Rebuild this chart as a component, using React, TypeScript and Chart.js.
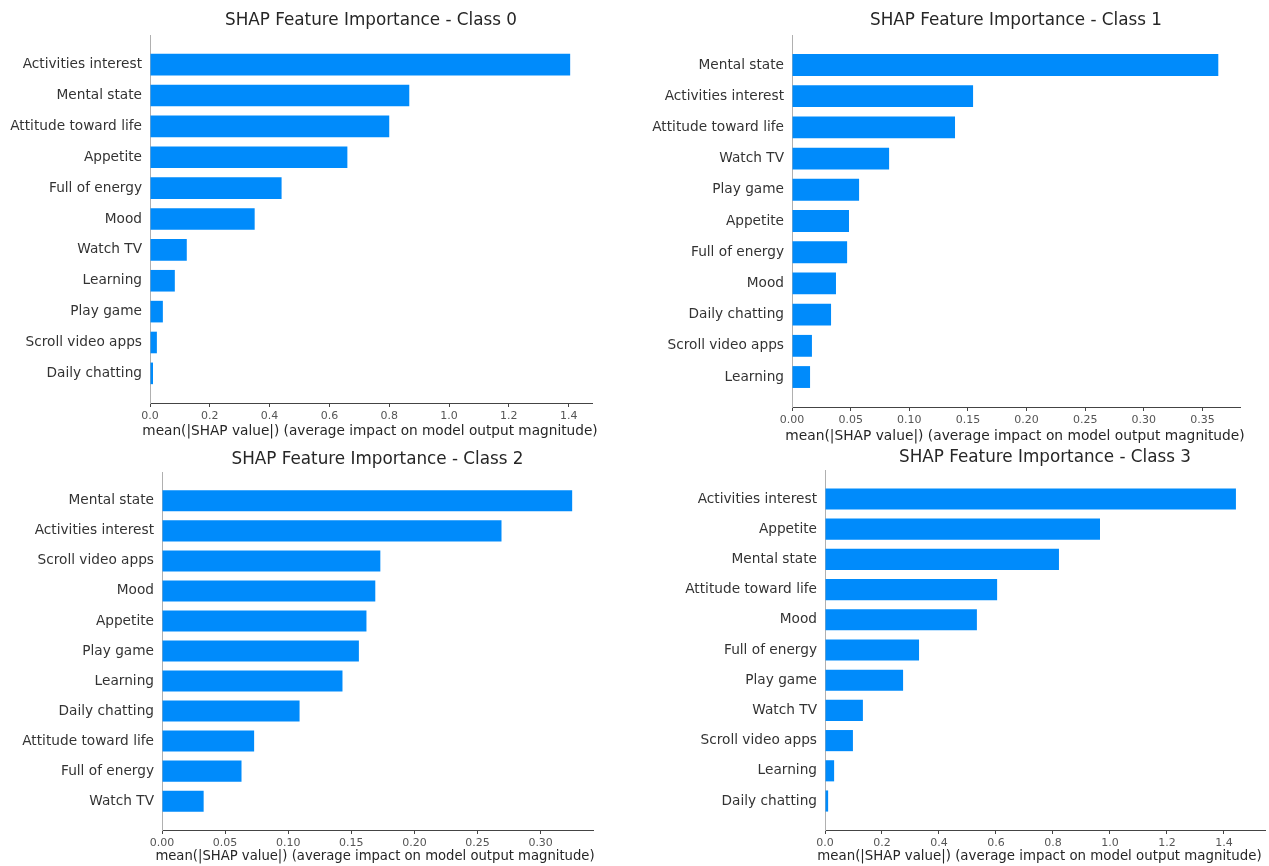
import React, { useEffect, useRef } from "react";
import { Chart, registerables } from "chart.js";

Chart.register(...registerables);

const FONT = "'DejaVu Sans', 'Liberation Sans', sans-serif";
const BAR_COLOR = "#008bfb";
const X_TITLE = "mean(|SHAP value|) (average impact on model output magnitude)";

// Class 0
const class0Features = [
  "Activities interest", "Mental state", "Attitude toward life", "Appetite",
  "Full of energy", "Mood", "Watch TV", "Learning", "Play game",
  "Scroll video apps", "Daily chatting",
];
const class0Values = [1.405, 0.867, 0.8, 0.66, 0.44, 0.35, 0.123, 0.083, 0.043, 0.023, 0.01];
const class0Ticks = [0, 0.2, 0.4, 0.6, 0.8, 1.0, 1.2, 1.4];

// Class 1
const class1Features = [
  "Mental state", "Activities interest", "Attitude toward life", "Watch TV",
  "Play game", "Appetite", "Full of energy", "Mood", "Daily chatting",
  "Scroll video apps", "Learning",
];
const class1Values = [0.3635, 0.1544, 0.139, 0.0828, 0.0572, 0.0486, 0.047, 0.0375, 0.0333, 0.017, 0.0154];
const class1Ticks = [0, 0.05, 0.1, 0.15, 0.2, 0.25, 0.3, 0.35];

// Class 2
const class2Features = [
  "Mental state", "Activities interest", "Scroll video apps", "Mood",
  "Appetite", "Play game", "Learning", "Daily chatting",
  "Attitude toward life", "Full of energy", "Watch TV",
];
const class2Values = [0.325, 0.269, 0.173, 0.169, 0.162, 0.156, 0.143, 0.109, 0.073, 0.063, 0.033];
const class2Ticks = [0, 0.05, 0.1, 0.15, 0.2, 0.25, 0.3];

// Class 3
const class3Features = [
  "Activities interest", "Appetite", "Mental state", "Attitude toward life",
  "Mood", "Full of energy", "Play game", "Watch TV", "Scroll video apps",
  "Learning", "Daily chatting",
];
const class3Values = [1.442, 0.965, 0.821, 0.604, 0.533, 0.33, 0.274, 0.133, 0.098, 0.032, 0.011];
const class3Ticks = [0, 0.2, 0.4, 0.6, 0.8, 1.0, 1.2, 1.4];

const panelTitles = [
  "SHAP Feature Importance - Class 0",
  "SHAP Feature Importance - Class 1",
  "SHAP Feature Importance - Class 2",
  "SHAP Feature Importance - Class 3",
];

type PanelSpec = {
  title: string;
  features: string[];
  values: number[];
  ticks: number[];
  decimals: number;
  xMax: number;
  // canvas box on the page
  cx: number; cy: number; cw: number; ch: number;
  // axes box on the page
  left: number; right: number; top: number; bottom: number;
  titleY: number;
  xTitleX: number;
  xTitleY: number;
  xTitleSize: number;
};

const panels: PanelSpec[] = [
  {
    title: panelTitles[0], features: class0Features, values: class0Values, ticks: class0Ticks,
    decimals: 1, xMax: 1.478,
    cx: 0, cy: 0, cw: 640, ch: 445,
    left: 150, right: 592, top: 35, bottom: 403, titleY: 21,
    xTitleX: 370, xTitleY: 431, xTitleSize: 13.68,
  },
  {
    title: panelTitles[1], features: class1Features, values: class1Values, ticks: class1Ticks,
    decimals: 2, xMax: 0.382,
    cx: 640, cy: 0, cw: 629, ch: 448,
    left: 792, right: 1240, top: 35, bottom: 407, titleY: 21,
    xTitleX: 1015, xTitleY: 436, xTitleSize: 13.8,
  },
  {
    title: panelTitles[2], features: class2Features, values: class2Values, ticks: class2Ticks,
    decimals: 2, xMax: 0.3415,
    cx: 0, cy: 445, cw: 640, ch: 421,
    left: 162, right: 593, top: 472, bottom: 830, titleY: 460,
    xTitleX: 375, xTitleY: 857, xTitleSize: 13.2,
  },
  {
    title: panelTitles[3], features: class3Features, values: class3Values, ticks: class3Ticks,
    decimals: 1, xMax: 1.544,
    cx: 640, cy: 448, cw: 629, ch: 418,
    left: 825, right: 1265, top: 470, bottom: 830, titleY: 458,
    xTitleX: 1039.5, xTitleY: 857, xTitleSize: 13.35,
  },
];

function Panel({ spec }: { spec: PanelSpec }) {
  const ref = useRef<HTMLCanvasElement | null>(null);

  useEffect(() => {
    const canvas = ref.current;
    if (!canvas) return;
    const s = spec;
    const yAxisWidth = s.left - s.cx;
    const xAxisHeight = s.cy + s.ch - s.bottom;

    // Panel title above the axes and the x-axis label below the ticks
    const textPlugin = {
      id: "panelText",
      afterDraw(chart: Chart) {
        const { ctx, chartArea } = chart;
        ctx.save();
        ctx.textAlign = "center";
        ctx.textBaseline = "middle";
        ctx.fillStyle = "#262626";
        ctx.font = `16.8px ${FONT}`;
        ctx.fillText(s.title, (chartArea.left + chartArea.right) / 2, s.titleY - s.cy);
        ctx.font = `${s.xTitleSize}px ${FONT}`;
        ctx.fillText(X_TITLE, s.xTitleX - s.cx, s.xTitleY - s.cy);
        ctx.restore();
      },
    };

    const chart = new Chart(canvas, {
      type: "bar",
      data: {
        datasets: [
          {
            data: s.values.map((v, i) => ({ x: v, y: i })),
            backgroundColor: BAR_COLOR,
            borderWidth: 0,
            barPercentage: 0.7,
            categoryPercentage: 1,
          },
        ],
      },
      options: {
        responsive: false,
        animation: false,
        indexAxis: "y",
        layout: {
          padding: { top: s.top - s.cy, right: s.cx + s.cw - s.right, left: 0, bottom: 0 },
        },
        plugins: {
          legend: { display: false },
          tooltip: { enabled: false },
          title: { display: false },
        },
        scales: {
          x: {
            type: "linear",
            min: 0,
            max: s.xMax,
            bounds: "data",
            offset: false,
            afterBuildTicks: (scale: any) => {
              scale.ticks = s.ticks.map((v) => ({ value: v }));
            },
            afterFit: (scale: any) => {
              scale.height = xAxisHeight;
            },
            ticks: {
              autoSkip: false,
              maxRotation: 0,
              padding: 3,
              color: "#555555",
              font: { family: FONT, size: 11 },
              callback: (v: any) => Number(v).toFixed(s.decimals),
            },
            grid: {
              display: true,
              drawOnChartArea: false,
              drawTicks: true,
              tickLength: 4,
              color: "#444444",
            },
            border: { display: true, color: "#444444", width: 1 },
            title: { display: false },
          },
          y: {
            type: "linear",
            reverse: true,
            offset: false,
            min: -0.96,
            max: s.features.length - 1 + 0.96,
            bounds: "data",
            afterBuildTicks: (scale: any) => {
              scale.ticks = s.features.map((_, i) => ({ value: i }));
            },
            afterFit: (scale: any) => {
              scale.width = yAxisWidth;
            },
            ticks: {
              autoSkip: false,
              padding: 8,
              color: "#333333",
              font: { family: FONT, size: 13.7 },
              callback: (v: any) => s.features[Math.round(Number(v))] ?? "",
            },
            grid: { display: false, drawTicks: false, offset: false },
            border: { display: true, color: "#b0b0b0", width: 1 },
          },
        },
      },
      plugins: [textPlugin],
    } as any);

    return () => chart.destroy();
  }, [spec]);

  return (
    <canvas
      ref={ref}
      width={spec.cw}
      height={spec.ch}
      style={{ position: "absolute", left: spec.cx, top: spec.cy, width: spec.cw, height: spec.ch }}
    />
  );
}

export default function App() {
  return (
    <div
      style={{
        position: "absolute",
        left: 0,
        top: 0,
        width: 1269,
        height: 866,
        background: "#ffffff",
        overflow: "hidden",
      }}
    >
      {panels.map((p) => (
        <Panel key={p.title} spec={p} />
      ))}
    </div>
  );
}
